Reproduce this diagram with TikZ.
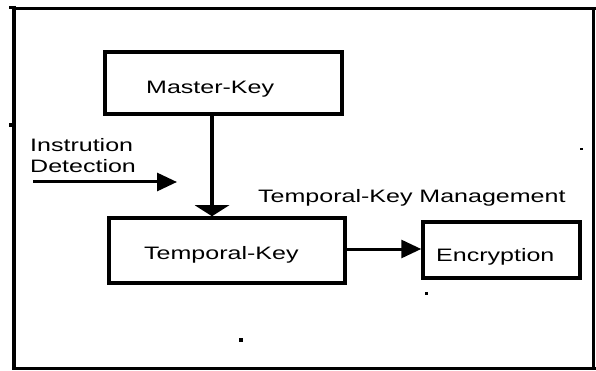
\documentclass[tikz,border=0pt]{standalone}
\usepackage{fontspec}
\setmainfont{Liberation Sans}[FakeStretch=1.39]
\usetikzlibrary{arrows.meta}
\begin{document}
\begin{tikzpicture}[x=1pt,y=-1pt,
  box/.style={draw=black,line width=3.5pt,minimum width=#1,inner sep=0pt},
  lbl/.style={anchor=base west,inner sep=0pt,font=\fontsize{18}{21}\selectfont},
  conn/.style={line width=3pt},
  dotmark/.style={fill=black}]
\useasboundingbox (0,0) rectangle (596,371);
% frame
\draw[line width=4.5pt] (14,6) -- (14,369);
\draw[line width=2.5pt] (12,8.5) -- (596,8.5);
\draw[line width=3pt] (593,8) -- (593,369);
\draw[line width=3pt] (12,368) -- (596,368);
\fill[dotmark] (9,6) rectangle (15,9);
\fill[dotmark] (9,123) rectangle (14,127);
% boxes
\node[box=237pt,minimum height=62pt] (mk) at (223.5,83) {};
\node[box=236pt,minimum height=65pt] (tk) at (227,250.5) {};
\node[box=157pt,minimum height=56pt] (enc) at (501.5,250) {};
% texts
\node[lbl] (mkt) at (146,94) {Master-Key};
\node[lbl] (tkt) at (144,259) {Temporal-Key};
\node[lbl] (enct) at (436,261) {Encryption};
\node[lbl] (ins) at (30,152) {Instrution};
\node[lbl] (det) at (30,173) {Detection};
\node[lbl] (mgmt) at (258,203) {Temporal-Key Management};
% connectors
\draw[line width=4pt,-{Triangle[length=11pt,width=34pt]}] (mk.south -| 212,0) -- (tk.north -| 212,0);
\draw[conn,-{Triangle[length=20pt,width=18pt]}] (tk.east |- 0,249) -- (enc.west |- 0,249);
\coordinate (insA) at (33,182);
\coordinate (insB) at (177,182);
\draw[conn,-{Triangle[length=20pt,width=18pt]}] (insA) -- (insB);
% stray dots
\fill[dotmark] (239,338) rectangle (243,341.5);
\fill[dotmark] (425,292) rectangle (427.5,294.5);
\fill[dotmark] (579.5,148) rectangle (582.5,150.5);
\end{tikzpicture}
\end{document}
